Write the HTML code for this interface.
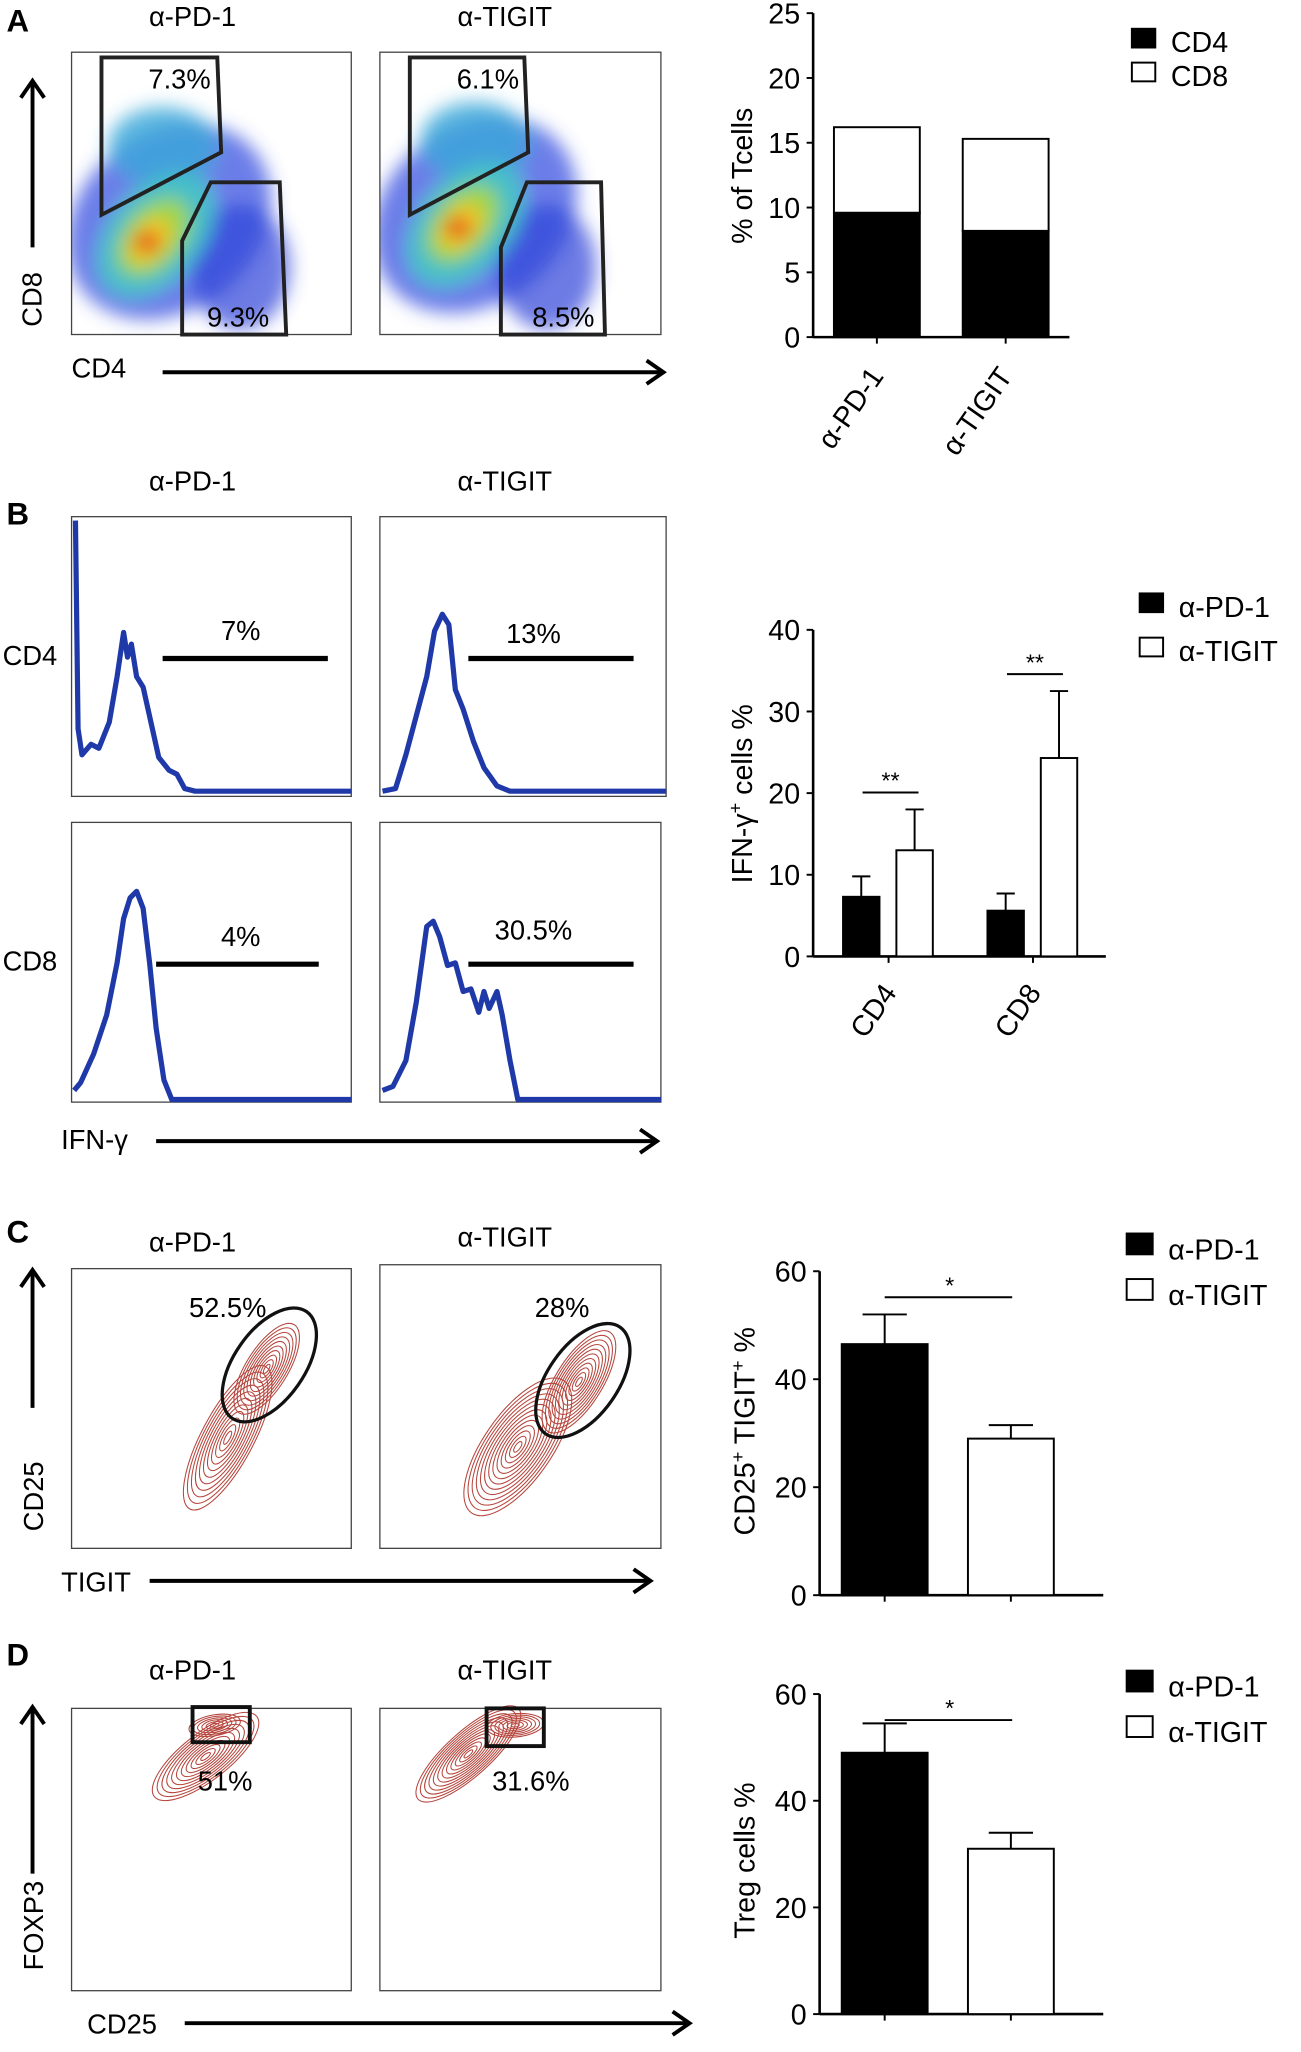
<!DOCTYPE html>
<html><head><meta charset="utf-8"><style>
html,body{margin:0;padding:0;background:#fff}
svg{display:block;font-family:"Liberation Sans",Arial,sans-serif}
</style></head><body>
<svg id="fig" width="1301" height="2052" viewBox="0 0 1000 1577" xmlns="http://www.w3.org/2000/svg">
<defs>
<filter id="blur" x="-50%" y="-50%" width="200%" height="200%"><feGaussianBlur stdDeviation="7"/></filter>
<clipPath id="clipA1"><rect x="55" y="40" width="215" height="217"/></clipPath>
<clipPath id="clipA2"><rect x="292" y="40" width="216" height="217"/></clipPath>
</defs>
<g>
<text x="5" y="24" font-size="24" font-weight="bold">A</text>
<text x="148" y="20" font-size="21" text-anchor="middle">α-PD-1</text>
<text x="388" y="20" font-size="21" text-anchor="middle">α-TIGIT</text>
<g clip-path="url(#clipA1)">
<g filter="url(#blur)">
<ellipse cx="130" cy="170" rx="85" ry="68" fill="#3a52e0" opacity="0.75" transform="rotate(-40 130 170)"/>
<ellipse cx="185" cy="205" rx="38" ry="48" fill="#2f45d8" opacity="0.7"/>
<ellipse cx="125" cy="112" rx="42" ry="30" fill="#3aa8d8" opacity="0.8"/>
<ellipse cx="120" cy="180" rx="55" ry="35" fill="#45c0c8" transform="rotate(-50 120 180)"/>
<ellipse cx="118" cy="182" rx="35" ry="22" fill="#9cd64a" transform="rotate(-50 118 182)"/>
<ellipse cx="115" cy="185" rx="20" ry="13" fill="#f5c520" transform="rotate(-50 115 185)"/>
<ellipse cx="113" cy="186" rx="10" ry="7" fill="#e0201a"/>
</g></g>
<g clip-path="url(#clipA2)">
<g filter="url(#blur)">
<ellipse cx="365" cy="165" rx="85" ry="68" fill="#3a52e0" opacity="0.75" transform="rotate(-40 365 165)"/>
<ellipse cx="420" cy="205" rx="38" ry="48" fill="#2f45d8" opacity="0.7"/>
<ellipse cx="365" cy="108" rx="42" ry="30" fill="#3aa8d8" opacity="0.8"/>
<ellipse cx="358" cy="172" rx="55" ry="35" fill="#45c0c8" transform="rotate(-50 358 172)"/>
<ellipse cx="356" cy="172" rx="35" ry="22" fill="#9cd64a" transform="rotate(-50 356 172)"/>
<ellipse cx="354" cy="174" rx="20" ry="13" fill="#f5c520" transform="rotate(-50 354 174)"/>
<ellipse cx="352" cy="175" rx="10" ry="7" fill="#e0201a"/>
</g></g>
<rect x="55" y="40" width="215" height="217" fill="none" stroke="#444" stroke-width="1"/>
<rect x="292" y="40" width="216" height="217" fill="none" stroke="#444" stroke-width="1"/>
<polygon points="78,44 167,44 170,117 78,165" fill="none" stroke="#222" stroke-width="3"/>
<polygon points="140,257 140,185 162,140 215,140 220,257" fill="none" stroke="#222" stroke-width="3"/>
<polygon points="315,44 403,44 406,117 315,165" fill="none" stroke="#222" stroke-width="3"/>
<polygon points="385,257 385,190 405,140 462,140 465,257" fill="none" stroke="#222" stroke-width="3"/>
<text x="138" y="68" font-size="21" text-anchor="middle">7.3%</text>
<text x="183" y="251" font-size="21" text-anchor="middle">9.3%</text>
<text x="375" y="68" font-size="21" text-anchor="middle">6.1%</text>
<text x="433" y="251" font-size="21" text-anchor="middle">8.5%</text>
<text x="32" y="230" font-size="21" text-anchor="middle" transform="rotate(-90 32 230)">CD8</text>
<text x="55" y="290" font-size="21">CD4</text>
</g>
<g>
<text x="5" y="403" font-size="24" font-weight="bold">B</text>
<text x="148" y="377" font-size="21" text-anchor="middle">α-PD-1</text>
<text x="388" y="377" font-size="21" text-anchor="middle">α-TIGIT</text>
<rect x="55" y="397" width="215" height="215" fill="none" stroke="#444"/>
<rect x="292" y="397" width="220" height="215" fill="none" stroke="#444"/>
<rect x="55" y="632" width="215" height="215" fill="none" stroke="#444"/>
<rect x="292" y="632" width="216" height="215" fill="none" stroke="#444"/>
<g fill="none" stroke="#1f3aa8" stroke-width="4" stroke-linejoin="round">
<path d="M58,400 L60,560 L63,580 L70,572 L76,575 L84,555 L90,520 L95,486 L98,505 L101,495 L105,520 L110,528 L116,555 L122,582 L130,592 L136,595 L142,606 L150,608 L270,608"/>
<path d="M294,608 L304,606 L312,580 L320,550 L328,520 L334,485 L340,472 L345,480 L350,530 L356,545 L364,570 L372,590 L382,604 L392,608 L512,608"/>
<path d="M57,838 L62,832 L72,810 L82,780 L90,740 L95,706 L100,690 L105,685 L110,698 L115,740 L120,790 L126,830 L132,845 L270,845"/>
<path d="M294,838 L302,835 L312,815 L320,770 L328,712 L333,708 L338,720 L344,742 L350,740 L356,762 L362,760 L368,778 L372,762 L376,775 L382,762 L386,780 L392,815 L398,845 L508,845"/>
</g>
<g stroke="#000" stroke-width="4">
<line x1="125" y1="506" x2="252" y2="506"/>
<line x1="360" y1="506" x2="487" y2="506"/>
<line x1="120" y1="741" x2="245" y2="741"/>
<line x1="360" y1="741" x2="487" y2="741"/>
</g>
<text x="185" y="492" font-size="21" text-anchor="middle">7%</text>
<text x="410" y="494" font-size="21" text-anchor="middle">13%</text>
<text x="185" y="727" font-size="21" text-anchor="middle">4%</text>
<text x="410" y="722" font-size="21" text-anchor="middle">30.5%</text>
<text x="2" y="511" font-size="21">CD4</text>
<text x="2" y="746" font-size="21">CD8</text>
<text x="47" y="883" font-size="21">IFN-γ</text>
</g>
<g>
<text x="5" y="955" font-size="24" font-weight="bold">C</text>
<text x="148" y="962" font-size="21" text-anchor="middle">α-PD-1</text>
<text x="388" y="958" font-size="21" text-anchor="middle">α-TIGIT</text>
<rect x="55" y="975" width="215" height="215" fill="none" stroke="#444"/>
<rect x="292" y="972" width="216" height="218" fill="none" stroke="#444"/>
<g id="contC1"></g>
<g id="contC2"></g>
<ellipse cx="207" cy="1049" rx="50" ry="27" transform="rotate(-55 207 1049)" fill="none" stroke="#111" stroke-width="2.5"/>
<ellipse cx="448" cy="1061" rx="50" ry="27" transform="rotate(-55 448 1061)" fill="none" stroke="#111" stroke-width="2.5"/>
<text x="175" y="1012" font-size="21" text-anchor="middle">52.5%</text>
<text x="432" y="1012" font-size="21" text-anchor="middle">28%</text>
<text x="33" y="1150" font-size="21" text-anchor="middle" transform="rotate(-90 33 1150)">CD25</text>
<text x="47" y="1223" font-size="21">TIGIT</text>
</g>
<g>
<text x="5" y="1280" font-size="24" font-weight="bold">D</text>
<text x="148" y="1291" font-size="21" text-anchor="middle">α-PD-1</text>
<text x="388" y="1291" font-size="21" text-anchor="middle">α-TIGIT</text>
<rect x="55" y="1313" width="215" height="217" fill="none" stroke="#444"/>
<rect x="292" y="1313" width="216" height="217" fill="none" stroke="#444"/>
<g id="contD1"></g>
<g id="contD2"></g>
<rect x="148" y="1312" width="44" height="27" fill="none" stroke="#111" stroke-width="3"/>
<rect x="374" y="1313" width="44" height="29" fill="none" stroke="#111" stroke-width="3"/>
<text x="173" y="1376" font-size="21" text-anchor="middle">51%</text>
<text x="408" y="1376" font-size="21" text-anchor="middle">31.6%</text>
<text x="33" y="1480" font-size="21" text-anchor="middle" transform="rotate(-90 33 1480)">FOXP3</text>
<text x="67" y="1563" font-size="21">CD25</text>
</g>
<g id="arrows" stroke="#000" stroke-width="3" fill="none"></g>
<g id="charts"></g>
</svg>
<script>
// ---- chart data ----
var aCategories = ['α-PD-1', 'α-TIGIT'];
var aCD4 = [9.6, 8.2];
var aCD8 = [6.6, 7.1];
var aTicks = [0, 5, 10, 15, 20, 25];

var bCategories = ['CD4', 'CD8'];
var bPD1 = [7.3, 5.6];
var bPD1Err = [2.5, 2.1];
var bTIGIT = [13, 24.3];
var bTIGITErr = [5, 8.2];
var bTicks = [0, 10, 20, 30, 40];
var bSig = ['**', '**'];

var cValues = [46.5, 29];
var cErr = [5.5, 2.5];
var cTicks = [0, 20, 40, 60];

var dValues = [49, 31];
var dErr = [5.5, 3];
var dTicks = [0, 20, 40, 60];

var NS = 'http://www.w3.org/2000/svg';
var charts = document.getElementById('charts');
function mk(tag, attrs, parent) {
  var e = document.createElementNS(NS, tag);
  for (var k in attrs) e.setAttribute(k, attrs[k]);
  (parent || charts).appendChild(e);
  return e;
}
function txt(x, y, s, size, anchor, parent, rot) {
  var t = mk('text', {x: x, y: y, 'font-size': size, 'text-anchor': anchor || 'start'}, parent);
  if (rot) t.setAttribute('transform', 'rotate(' + rot + ' ' + x + ' ' + y + ')');
  t.textContent = s;
  return t;
}
function scale(d0, d1, r0, r1) { return function (v) { return r0 + (v - d0) / (d1 - d0) * (r1 - r0); }; }

function axes(g, x0, x1, yScale, ticks, name) {
  var yl = mk('line', {x1: x0, y1: yScale(ticks[ticks.length - 1]), x2: x0, y2: yScale(ticks[0]), stroke: '#000', 'stroke-width': 2}, g);
  
  
  var xl = mk('line', {x1: x0, y1: yScale(ticks[0]), x2: x1, y2: yScale(ticks[0]), stroke: '#000', 'stroke-width': 2}, g);
  
  
  ticks.forEach(function (t) {
    mk('line', {x1: x0 - 5, y1: yScale(t), x2: x0, y2: yScale(t), stroke: '#000', 'stroke-width': 1.5}, g);
    var tl = txt(x0 - 10, yScale(t) + 8, String(t), 22, 'end', g);
    
    
  });
}
function bar(g, x, w, y0, y1, fill, name) {
  var r = mk('rect', {x: x, y: Math.min(y0, y1), width: w, height: Math.abs(y0 - y1), fill: fill, stroke: '#000', 'stroke-width': 1.5}, g);
  
  
  return r;
}
function errbar(g, cx, yTop, yErr, hw, name) {
  var e = mk('path', {d: 'M' + cx + ',' + yTop + ' L' + cx + ',' + yErr + ' M' + (cx - hw) + ',' + yErr + ' L' + (cx + hw) + ',' + yErr, stroke: '#000', 'stroke-width': 1.5, fill: 'none'}, g);
  
  
}
function legend(g, x, ys, labels, fills, size, name) {
  labels.forEach(function (l, i) {
    var s = mk('rect', {x: x, y: ys[i] - size, width: size, height: size * 0.8, fill: fills[i], stroke: '#000', 'stroke-width': 1.5}, g);
    
    
    var t = txt(x + size + 12, ys[i], l, 22, 'start', g);
    
    
  });
}

// ---- Chart A: stacked bars ----
(function () {
  var g = mk('g', {});
  
  
  var y = scale(0, 25, 259, 10);
  axes(g, 625, 822, y, aTicks, 'chart-a');
  var bx = [641, 740], bw = 66;
  aCategories.forEach(function (c, i) {
    bar(g, bx[i], bw, y(0), y(aCD4[i]), '#000', 'chart-a-bar-cd4-' + i);
    bar(g, bx[i], bw, y(aCD4[i]), y(aCD4[i] + aCD8[i]), '#fff', 'chart-a-bar-cd8-' + i);
    mk('line', {x1: bx[i] + bw / 2, y1: y(0), x2: bx[i] + bw / 2, y2: y(0) + 5, stroke: '#000', 'stroke-width': 1.5}, g);
    var t = txt(bx[i] + bw / 2 + 6, y(0) + 30, c, 22, 'end', g, -55);
    
    
  });
  var yt = txt(578, 135, '% of Tcells', 22, 'middle', g, -90);
  
  
  legend(g, 870, [40, 66], ['CD4', 'CD8'], ['#000', '#fff'], 18, 'chart-a');
})();

// ---- Chart B: grouped bars ----
(function () {
  var g = mk('g', {});
  
  
  var y = scale(0, 40, 735, 484);
  axes(g, 625, 850, y, bTicks, 'chart-b');
  var gx = [648, 759], bw = 28;
  bCategories.forEach(function (c, i) {
    errbar(g, gx[i] + bw / 2, y(bPD1[i]), y(bPD1[i] + bPD1Err[i]), 7, 'chart-b-err-pd1-' + i);
    bar(g, gx[i], bw, y(0), y(bPD1[i]), '#000', 'chart-b-bar-pd1-' + c);
    var wx = gx[i] + 41;
    errbar(g, wx + bw / 2, y(bTIGIT[i]), y(bTIGIT[i] + bTIGITErr[i]), 7, 'chart-b-err-tigit-' + i);
    bar(g, wx, bw, y(0), y(bTIGIT[i]), '#fff', 'chart-b-bar-tigit-' + c);
    var sy = y(bTIGIT[i] + bTIGITErr[i]) - 13;
    var sl = mk('line', {x1: gx[i] + 15, y1: sy, x2: wx + 17, y2: sy, stroke: '#000', 'stroke-width': 1.5}, g);
    
    
    var st = txt((gx[i] + wx + 32) / 2, sy - 3, bSig[i], 18, 'middle', g);
    
    
    mk('line', {x1: gx[i] + 35, y1: y(0), x2: gx[i] + 35, y2: y(0) + 5, stroke: '#000', 'stroke-width': 1.5}, g);
    var t = txt(gx[i] + 42, y(0) + 28, c, 22, 'end', g, -55);
    
    
  });
  var yt = mk('text', {x: 578, y: 610, 'font-size': 22, 'text-anchor': 'middle', transform: 'rotate(-90 578 610)'}, g);
  yt.innerHTML = 'IFN-γ<tspan dy="-8" font-size="14">+</tspan><tspan dy="8"> cells %</tspan>';
  
  
  legend(g, 876, [474, 508], ['α-PD-1', 'α-TIGIT'], ['#000', '#fff'], 18, 'chart-b');
})();

// ---- Charts C & D: two bars ----
function twoBar(vals, errs, ticks, top, base, titleHtml, titleY, legendYs, name) {
  var g = mk('g', {});
  
  
  var y = scale(0, 60, base, top);
  axes(g, 630, 848, y, ticks, name);
  var bx = [647, 744], bw = 66, fills = ['#000', '#fff'];
  vals.forEach(function (v, i) {
    errbar(g, bx[i] + bw / 2, y(v), y(v + errs[i]), 17, name + '-err-' + i);
    bar(g, bx[i], bw, y(0), y(v), fills[i], name + '-bar-' + i);
    mk('line', {x1: bx[i] + bw / 2, y1: y(0), x2: bx[i] + bw / 2, y2: y(0) + 5, stroke: '#000', 'stroke-width': 1.5}, g);
  });
  var sy = top + 20;
  var sl = mk('line', {x1: 680, y1: sy, x2: 778, y2: sy, stroke: '#000', 'stroke-width': 1.5}, g);
  
  
  var st = txt(730, sy - 3, '*', 18, 'middle', g);
  
  
  var yt = mk('text', {x: 580, y: titleY, 'font-size': 22, 'text-anchor': 'middle', transform: 'rotate(-90 580 ' + titleY + ')'}, g);
  yt.innerHTML = titleHtml;
  
  
  legend(g, 866, legendYs, ['α-PD-1', 'α-TIGIT'], fills, 20, name);
}
twoBar(cValues, cErr, cTicks, 977, 1226, 'CD25<tspan dy="-8" font-size="14">+</tspan><tspan dy="8"> TIGIT</tspan><tspan dy="-8" font-size="14">+</tspan><tspan dy="8">  %</tspan>', 1100, [968, 1003], 'chart-c');
twoBar(dValues, dErr, dTicks, 1302, 1548, 'Treg cells %', 1430, [1304, 1339], 'chart-d');

// ---- arrows ----
var ar = document.getElementById('arrows');
function arrow(x1, y1, x2, y2, name) {
  var p = mk('line', {x1: x1, y1: y1, x2: x2, y2: y2}, ar);
  
  
  var dx = x2 - x1, dy = y2 - y1, L = Math.sqrt(dx * dx + dy * dy), ux = dx / L, uy = dy / L, h = 13;
  mk('path', {d: 'M' + (x2 - ux * h - uy * 9) + ',' + (y2 - uy * h + ux * 9) + ' L' + x2 + ',' + y2 + ' L' + (x2 - ux * h + uy * 9) + ',' + (y2 - uy * h - ux * 9)}, ar);
}
arrow(25, 190, 25, 62, 'a-y-arrow');
arrow(125, 286, 510, 286, 'a-x-arrow');
arrow(120, 877, 505, 877, 'b-x-arrow');
arrow(25, 1082, 25, 976, 'c-y-arrow');
arrow(115, 1215, 500, 1215, 'c-x-arrow');
arrow(25, 1440, 25, 1312, 'd-y-arrow');
arrow(142, 1555, 530, 1555, 'd-x-arrow');

// ---- contour plots (decorative) ----
function contours(id, cx, cy, rx, ry, rot, n) {
  var g = document.getElementById(id);
  for (var k = 1; k <= n; k++) {
    var f = k / n;
    mk('ellipse', {cx: cx, cy: cy, rx: rx * f, ry: ry * f, transform: 'rotate(' + rot + ' ' + cx + ' ' + cy + ')', fill: 'none', stroke: '#b5453c', 'stroke-width': 0.8}, g);
  }
}
contours('contC1', 205, 1052, 40, 16, -58, 10);
contours('contC2', 445, 1062, 45, 18, -58, 11);
contours('contC2', 398, 1112, 62, 26, -55, 13);
contours('contC1', 175, 1105, 62, 20, -62, 11);
contours('contD1', 158, 1350, 50, 18, -38, 11);
contours('contD1', 165, 1326, 20, 8, -10, 6);
contours('contD2', 360, 1348, 52, 17, -42, 12);
contours('contD2', 396, 1326, 22, 9, -5, 7);
</script>
</body></html>
